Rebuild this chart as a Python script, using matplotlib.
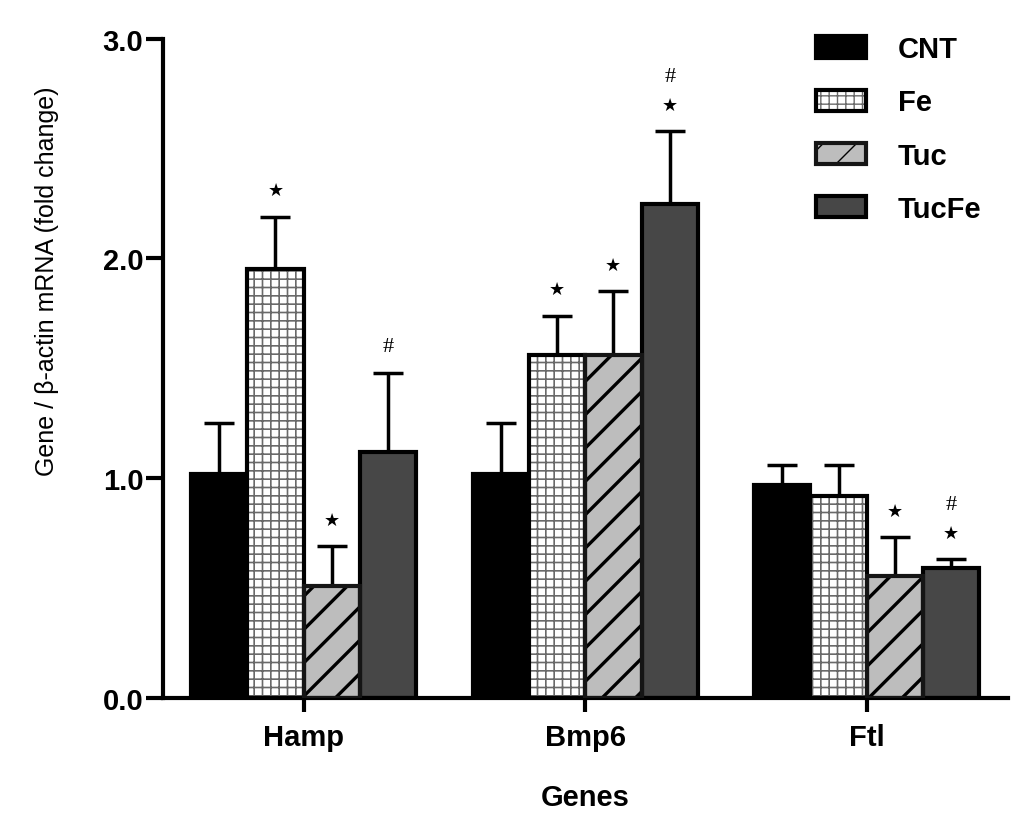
import matplotlib
matplotlib.use("Agg")
import matplotlib.pyplot as plt
import numpy as np
from matplotlib.legend_handler import HandlerTuple

genes = ["Hamp", "Bmp6", "Ftl"]
groups = ["CNT", "Fe", "Tuc", "TucFe"]

cnt_mean = [1.02, 1.02, 0.97]
fe_mean = [1.95, 1.56, 0.92]
tuc_mean = [0.51, 1.56, 0.555]
tucfe_mean = [1.12, 2.25, 0.59]

cnt_err = [0.23, 0.23, 0.09]
fe_err = [0.24, 0.18, 0.14]
tuc_err = [0.18, 0.29, 0.175]
tucfe_err = [0.36, 0.33, 0.04]

# significance marks per bar: (gene index, group index)
star_marks = {(0, 1), (0, 2), (1, 1), (1, 2), (1, 3), (2, 2), (2, 3)}
hash_marks = {(0, 3), (1, 3), (2, 3)}

yticks = [0.0, 1.0, 2.0, 3.0]

means = [cnt_mean, fe_mean, tuc_mean, tucfe_mean]
errs = [cnt_err, fe_err, tuc_err, tucfe_err]

plt.rcParams["font.family"] = ["Liberation Sans", "DejaVu Sans"]

fig = plt.figure(figsize=(10.24, 8.28), dpi=100)
ax = fig.add_axes([0.159, 0.156, 0.825, 0.796])

x = np.arange(len(genes))
width = 0.2
offsets = [-0.3, -0.1, 0.1, 0.3]
edge_lw = 3.0

handles = []
for gi, (grp, m, e, off) in enumerate(zip(groups, means, errs, offsets)):
    xs = x + off
    if grp == "CNT":
        b = ax.bar(xs, m, width, color="black", edgecolor="black", linewidth=edge_lw, zorder=2)
        handles.append(b[0])
    elif grp == "Fe":
        h = ax.bar(xs, m, width, color="white", edgecolor="#6a6a6a", hatch="++",
                   linewidth=0, zorder=2)
        for p in h:
            if hasattr(p, "set_hatch_linewidth"):
                p.set_hatch_linewidth(1.2)
        o = ax.bar(xs, m, width, fill=False, edgecolor="black", linewidth=edge_lw, zorder=3)
        handles.append((h[0], o[0]))
    elif grp == "Tuc":
        h = ax.bar(xs, m, width, color="#bdbdbd", edgecolor="black", hatch="/",
                   linewidth=0, zorder=2)
        for p in h:
            if hasattr(p, "set_hatch_linewidth"):
                p.set_hatch_linewidth(2.4)
        o = ax.bar(xs, m, width, fill=False, edgecolor="#151515", linewidth=edge_lw, zorder=3)
        handles.append((h[0], o[0]))
    else:
        b = ax.bar(xs, m, width, color="#474747", edgecolor="black", linewidth=edge_lw, zorder=2)
        handles.append(b[0])
    ax.errorbar(xs, m, yerr=[np.zeros(len(m)), e], fmt="none", ecolor="black",
                elinewidth=2.5, capsize=11, capthick=2.5, zorder=1)

    for k in range(len(genes)):
        top = m[k] + e[k]
        if (k, gi) in star_marks:
            ax.text(xs[k], top + 0.12, "\u2605", ha="center", va="center",
                    fontsize=13, family="DejaVu Sans", color="black")
            if (k, gi) in hash_marks:
                ax.text(xs[k], top + 0.25, "#", ha="center", va="center",
                        fontsize=16, family="Liberation Serif", color="black")
        elif (k, gi) in hash_marks:
            ax.text(xs[k], top + 0.12, "#", ha="center", va="center",
                    fontsize=16, family="Liberation Serif", color="black")

ax.set_xlim(-0.5, 2.5)
ax.set_ylim(0, 3.0)
ax.set_xticks(x)
ax.set_xticklabels(genes, fontsize=21, fontweight="bold")
ax.set_yticks(yticks)
ax.set_yticklabels([f"{t:.1f}" for t in yticks], fontsize=21, fontweight="bold")
ax.tick_params(axis="x", direction="out", length=10, width=3, pad=8)
ax.tick_params(axis="y", direction="out", length=12, width=3, pad=2)

for s in ["top", "right"]:
    ax.spines[s].set_visible(False)
for s in ["left", "bottom"]:
    ax.spines[s].set_linewidth(3)

ax.set_ylabel("Gene / \u03b2-actin mRNA (fold change)", fontsize=18)
ax.yaxis.set_label_coords(-0.123, 0.633)
ax.set_xlabel("Genes", fontsize=21, fontweight="bold", labelpad=23)

leg = ax.legend(handles, groups, loc="upper right", bbox_to_anchor=(1.0, 1.045),
                frameon=False, handlelength=1.7, handleheight=0.75,
                labelspacing=0.86, handletextpad=1.1,
                handler_map={tuple: HandlerTuple(ndivide=1, pad=0)},
                prop={"weight": "bold", "size": 21})

fig.savefig("out.png", dpi=100)
